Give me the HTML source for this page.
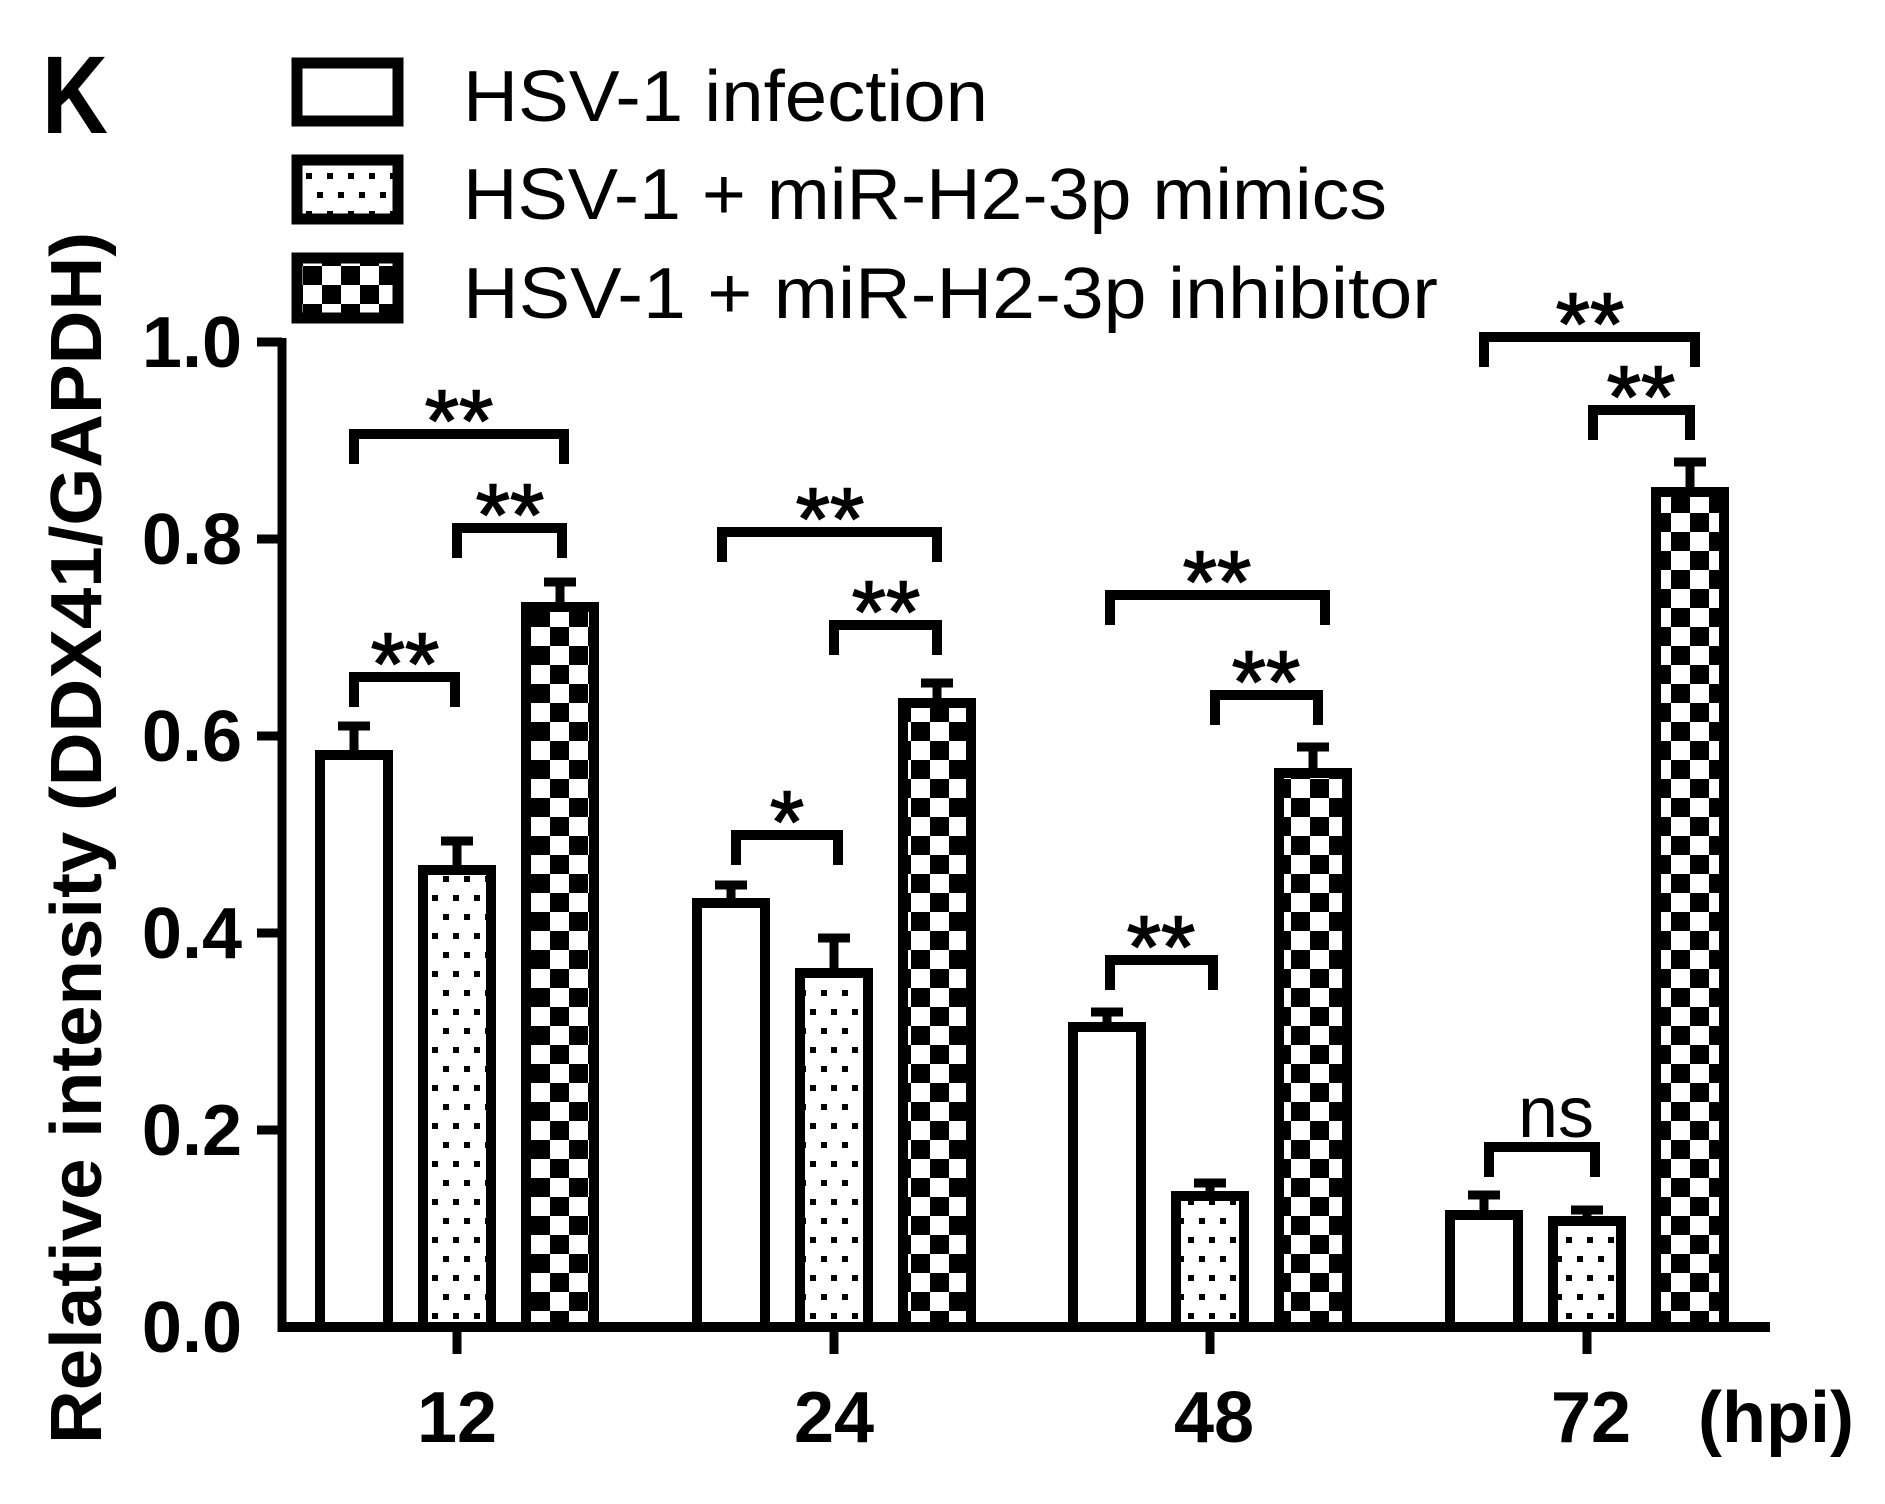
<!DOCTYPE html>
<html><head><meta charset="utf-8"><style>html,body{margin:0;padding:0;background:#fff}svg{display:block}</style></head>
<body>
<svg width="1885" height="1504" viewBox="0 0 1885 1504" xmlns="http://www.w3.org/2000/svg">
<defs>
<pattern id="chk" patternUnits="userSpaceOnUse" x="531" y="0" width="38" height="38">
<rect width="38" height="38" fill="#fff"/><rect x="0" y="0" width="19" height="19" fill="#000"/><rect x="19" y="19" width="19" height="19" fill="#000"/>
</pattern>
<pattern id="dot" patternUnits="userSpaceOnUse" x="0" y="0" width="21" height="38">
<rect width="21" height="38" fill="#fff"/><rect x="2" y="2" width="6" height="6" fill="#000"/><rect x="12" y="21" width="6" height="6" fill="#000"/>
</pattern>
</defs>
<g font-family="Liberation Sans, sans-serif" fill="#000">
<text x="42" y="133" font-size="110" font-weight="bold" textLength="66" lengthAdjust="spacingAndGlyphs">K</text>
<rect x="297" y="63" width="101" height="58" fill="#fff" stroke="#000" stroke-width="11"/>
<rect x="297" y="160" width="101" height="59" fill="url(#dot)" stroke="#000" stroke-width="11"/>
<rect x="297" y="258" width="101" height="60" fill="url(#chk)" stroke="#000" stroke-width="11"/>
<text x="463" y="121" font-size="72" textLength="525" lengthAdjust="spacingAndGlyphs">HSV-1 infection</text>
<text x="463" y="219" font-size="72" textLength="924" lengthAdjust="spacingAndGlyphs">HSV-1 + miR-H2-3p mimics</text>
<text x="463" y="318" font-size="72" textLength="975" lengthAdjust="spacingAndGlyphs">HSV-1 + miR-H2-3p inhibitor</text>
<text transform="translate(101,838) rotate(-90)" text-anchor="middle" font-size="72" font-weight="bold" textLength="1212" lengthAdjust="spacingAndGlyphs">Relative intensity (DDX41/GAPDH)</text>
<g font-size="72" font-weight="bold" text-anchor="end">
<text x="242" y="367">1.0</text>
<text x="242" y="564">0.8</text>
<text x="242" y="761">0.6</text>
<text x="242" y="958">0.4</text>
<text x="242" y="1155">0.2</text>
<text x="242" y="1352">0.0</text>
</g>
<g font-size="72" font-weight="bold" text-anchor="middle">
<text x="457" y="1442">12</text>
<text x="834" y="1442">24</text>
<text x="1214" y="1442">48</text>
<text x="1591" y="1442">72</text>
<text x="1776" y="1442">(hpi)</text>
</g>
</g>
<g stroke="#000" stroke-width="10">
<rect x="320" y="755" width="68" height="572" fill="#fff"/>
<rect x="423" y="870" width="68" height="457" fill="url(#dot)"/>
<rect x="526" y="607" width="68" height="720" fill="url(#chk)"/>
<rect x="697" y="903" width="68" height="424" fill="#fff"/>
<rect x="800" y="973" width="68" height="354" fill="url(#dot)"/>
<rect x="903" y="703" width="68" height="624" fill="url(#chk)"/>
<rect x="1073" y="1027" width="68" height="300" fill="#fff"/>
<rect x="1176" y="1196" width="68" height="131" fill="url(#dot)"/>
<rect x="1279" y="773" width="68" height="554" fill="url(#chk)"/>
<rect x="1450" y="1215" width="68" height="112" fill="#fff"/>
<rect x="1553" y="1221" width="68" height="106" fill="url(#dot)"/>
<rect x="1656" y="492" width="68" height="835" fill="url(#chk)"/>
</g>
<g stroke="#000" stroke-width="9" fill="none">
<path d="M354 750V726M338 726H370"/>
<path d="M457 865V841M441 841H473"/>
<path d="M560 602V582M544 582H576"/>
<path d="M731 898V885M715 885H747"/>
<path d="M834 968V938M818 938H850"/>
<path d="M937 698V683M921 683H953"/>
<path d="M1107 1022V1012M1091 1012H1123"/>
<path d="M1210 1191V1183M1194 1183H1226"/>
<path d="M1313 768V747M1297 747H1329"/>
<path d="M1484 1210V1195M1468 1195H1500"/>
<path d="M1587 1216V1210M1571 1210H1603"/>
<path d="M1690 487V462M1674 462H1706"/>
</g>
<g stroke="#000" fill="none">
<path d="M282 338V1332" stroke-width="9"/>
<path d="M278 1327H1770" stroke-width="10"/>
<path d="M257 342H282M257 539H282M257 736H282M257 933H282M257 1130H282" stroke-width="9"/>
<path d="M457 1327V1354M834 1327V1354M1210 1327V1354M1587 1327V1354" stroke-width="9"/>
</g>
<g stroke="#000" stroke-width="10" fill="none">
<path d="M354 464V434H564V464"/>
<path d="M457 558V528H562V558"/>
<path d="M354 707V677H455V707"/>
<path d="M722 562V532H937V562"/>
<path d="M834 655V625H937V655"/>
<path d="M736 865V835H838V865"/>
<path d="M1110 625V595H1325V625"/>
<path d="M1215 725V695H1318V725"/>
<path d="M1110 990V960H1213V990"/>
<path d="M1484 367V337H1695V367"/>
<path d="M1593 440V410H1690V440"/>
<path d="M1489 1177V1147H1595V1177"/>
</g>
<g font-family="Liberation Sans, sans-serif" font-size="88" text-anchor="middle" fill="#000" stroke="#000" stroke-width="1.5">
<text x="459" y="451">**</text>
<text x="510" y="545">**</text>
<text x="405" y="694">**</text>
<text x="830" y="549">**</text>
<text x="886" y="642">**</text>
<text x="787" y="852">*</text>
<text x="1217" y="612">**</text>
<text x="1266" y="712">**</text>
<text x="1161" y="977">**</text>
<text x="1590" y="354">**</text>
<text x="1641" y="427">**</text>
</g>
<text x="1556" y="1137" font-family="Liberation Sans, sans-serif" font-size="72" text-anchor="middle">ns</text>
</svg>
</body></html>
